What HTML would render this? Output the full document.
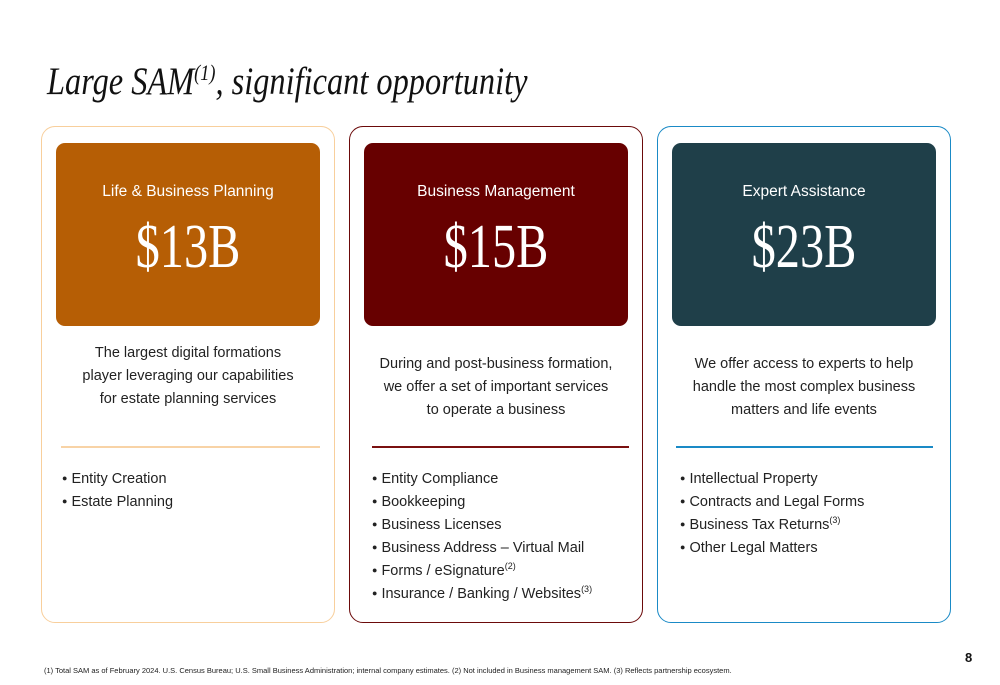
<!DOCTYPE html>
<html><head><meta charset="utf-8"><style>
body{margin:0;width:1000px;height:685px;background:#fff;position:relative;overflow:hidden;font-family:"Liberation Sans",sans-serif;}
.title{position:absolute;left:47px;top:59px;font-family:"Liberation Serif",serif;font-style:italic;font-size:39px;color:#111;white-space:nowrap;transform:scaleX(0.83);transform-origin:left top;}
.title sup{font-size:22px;line-height:0;}
.card{position:absolute;top:126px;width:294px;height:497px;border:1.5px solid;border-radius:14px;box-sizing:border-box;}
.box{position:absolute;left:14px;top:16px;width:264px;height:183px;border-radius:9px;color:#fff;text-align:center;}
.lbl{position:absolute;top:40px;width:100%;font-size:15.5px;}
.val{position:absolute;top:73px;width:100%;font-family:"Liberation Serif",serif;font-size:62px;line-height:1;transform:scaleX(0.78);}
.desc{position:absolute;left:0;width:292px;text-align:center;font-size:14.5px;line-height:23px;color:#222;white-space:nowrap;}
.div{position:absolute;top:319px;height:2px;}
ul{position:absolute;top:341px;left:20px;margin:0;padding:0;list-style:none;font-size:14.5px;line-height:23px;color:#222;}
li{height:23px;white-space:nowrap;}
li:before{content:"\25CF";font-size:9px;margin-right:4px;position:relative;top:-2px;}
sup{font-size:9px;line-height:0;}
.foot{position:absolute;left:44px;top:666px;font-size:7.5px;color:#222;}
.pg{position:absolute;left:965px;top:650px;font-size:13px;font-weight:bold;color:#111;}
</style></head><body>
<div class="title">Large SAM<sup>(1)</sup>, significant opportunity</div>

<div class="card" style="left:41px;border-color:#f8cf9c">
 <div class="box" style="background:#b65e05">
  <div class="lbl">Life &amp; Business Planning</div><div class="val">$13B</div></div>
 <div class="desc" style="top:215px">The largest digital formations<br>player leveraging our capabilities<br>for estate planning services</div>
 <div class="div" style="left:19px;width:259px;background:#f8d3a6"></div>
 <ul><li>Entity Creation</li><li>Estate Planning</li></ul>
</div>

<div class="card" style="left:349px;border-color:#6b0a0a">
 <div class="box" style="background:#670000">
  <div class="lbl">Business Management</div><div class="val">$15B</div></div>
 <div class="desc" style="top:226px">During and post-business formation,<br>we offer a set of important services<br>to operate a business</div>
 <div class="div" style="left:22px;width:257px;background:#7a1010"></div>
 <ul style="left:22px"><li>Entity Compliance</li><li>Bookkeeping</li><li>Business Licenses</li><li>Business Address – Virtual Mail</li><li>Forms / eSignature<sup>(2)</sup></li><li>Insurance / Banking / Websites<sup>(3)</sup></li></ul>
</div>

<div class="card" style="left:657px;border-color:#1a8ac6">
 <div class="box" style="background:#1f3f49">
  <div class="lbl">Expert Assistance</div><div class="val">$23B</div></div>
 <div class="desc" style="top:226px">We offer access to experts to help<br>handle the most complex business<br>matters and life events</div>
 <div class="div" style="left:18px;width:257px;background:#1a8ac6"></div>
 <ul style="left:22px"><li>Intellectual Property</li><li>Contracts and Legal Forms</li><li>Business Tax Returns<sup>(3)</sup></li><li>Other Legal Matters</li></ul>
</div>

<div class="foot">(1) Total SAM as of February 2024. U.S. Census Bureau; U.S. Small Business Administration; internal company estimates. (2) Not included in Business management SAM. (3) Reflects partnership ecosystem.</div>
<div class="pg">8</div>
</body></html>
